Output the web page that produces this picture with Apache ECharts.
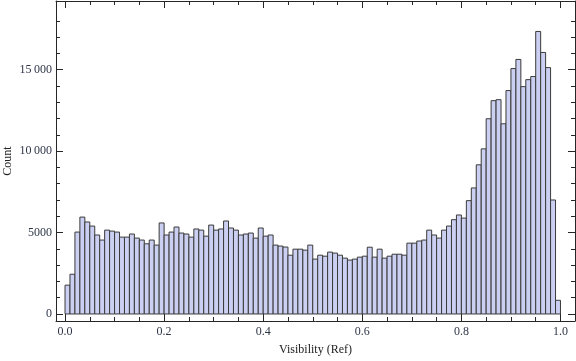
<!DOCTYPE html>
<html>
<head>
<meta charset="UTF-8">
<title>Visibility histogram</title>
<script src="https://cdn.jsdelivr.net/npm/echarts@6/dist/echarts.min.js"></script>
<style>
  html, body { margin: 0; padding: 0; background: #fff; }
  #main { width: 576px; height: 361px; }
</style>
</head>
<body>
<div id="main"></div>
<script>
// histogram of visibility, 100 bins of width 0.01 from 0 to 1
var binWidth = 0.01;
var counts = [
  1770, 2440, 5030, 5950, 5650, 5400, 4850, 4540, 5150, 5090,
  5030, 4720, 4720, 4910, 4660, 4540, 4310, 4540, 4230, 5590,
  4850, 5030, 5340, 4970, 4910, 4720, 5220, 5150, 4780, 5460,
  5150, 5220, 5710, 5280, 5150, 4850, 4910, 4970, 4660, 5280,
  4780, 4850, 4230, 4170, 4110, 3610, 3980, 3980, 3920, 4230,
  3370, 3610, 3550, 3800, 3740, 3610, 3430, 3310, 3370, 3490,
  3550, 4100, 3490, 3980, 3430, 3550, 3670, 3670, 3610, 4350,
  4350, 4480, 4540, 5150, 4850, 4660, 5150, 5400, 5790, 6080,
  5890, 6960, 7740, 9160, 10140, 11990, 13100, 13160, 11680, 13720,
  15070, 15630, 13960, 14390, 14580, 17350, 16060, 15130, 7000, 840
];

var xMajorTicks = [0, 0.2, 0.4, 0.6, 0.8, 1.0];
var xMinorTicks = [0.05, 0.1, 0.15, 0.25, 0.3, 0.35, 0.45, 0.5, 0.55, 0.65, 0.7, 0.75, 0.85, 0.9, 0.95];
var yMajorTicks = [0, 5000, 10000, 15000];
var yMinorTicks = [1000, 2000, 3000, 4000, 6000, 7000, 8000, 9000, 11000, 12000, 13000, 14000, 16000, 17000, 18000];

var xMin = -0.0182, xMax = 1.0293;
var yMin = -431, yMax = 19220;

var bins = [];
for (var i = 0; i < counts.length; i++) {
  bins.push([i * binWidth, (i + 1) * binWidth, counts[i]]);
}

var font = 'Liberation Serif, Times New Roman, serif';
var frameColor = '#262626';
var labelColor = '#2e3648';

function tickAxis(pos, ticks, len, withLine) {
  return {
    type: 'value', position: pos,
    axisLine: { show: withLine, onZero: false, lineStyle: { color: frameColor, width: 1 } },
    axisTick: { show: true, inside: true, length: len, customValues: ticks,
                lineStyle: { color: frameColor, width: 1 } },
    axisLabel: { show: false },
    splitLine: { show: false }
  };
}

var myChart = echarts.init(document.getElementById('main'), null, { renderer: 'canvas' });

var xAxes = [
  {
    type: 'value', position: 'bottom', min: xMin, max: xMax,
    name: 'Visibility (Ref)', nameLocation: 'middle', nameGap: 23,
    nameTextStyle: { fontFamily: font, fontSize: 12, color: '#222' },
    axisLine: { show: true, onZero: false, lineStyle: { color: frameColor, width: 1 } },
    axisTick: { show: true, inside: true, length: 7, customValues: xMajorTicks,
                lineStyle: { color: frameColor, width: 1 } },
    axisLabel: { show: true, customValues: xMajorTicks, margin: 5,
                 fontFamily: font, fontSize: 12, color: labelColor,
                 formatter: function (v) { return v.toFixed(1); } },
    splitLine: { show: false }
  },
  tickAxis('bottom', xMinorTicks, 4, false),
  tickAxis('top', xMajorTicks, 7, true),
  tickAxis('top', xMinorTicks, 4, false)
];
for (var k = 1; k < xAxes.length; k++) { xAxes[k].min = xMin; xAxes[k].max = xMax; }

var yAxes = [
  {
    type: 'value', position: 'left', min: yMin, max: yMax,
    name: 'Count', nameLocation: 'middle', nameGap: 42, nameRotate: 90,
    nameMoveOverlap: false,
    nameTextStyle: { fontFamily: font, fontSize: 12, color: '#222' },
    axisLine: { show: true, onZero: false, lineStyle: { color: frameColor, width: 1 } },
    axisTick: { show: true, inside: true, length: 7, customValues: yMajorTicks,
                lineStyle: { color: frameColor, width: 1 } },
    axisLabel: { show: true, customValues: yMajorTicks, margin: 4,
                 fontFamily: font, fontSize: 12, color: labelColor,
                 formatter: function (v) {
                   return v >= 10000 ? String(v).replace(/(\d{2})(\d{3})$/, '$1\u2009$2') : String(v);
                 } },
    splitLine: { show: false }
  },
  tickAxis('left', yMinorTicks, 4, false),
  tickAxis('right', yMajorTicks, 7, true),
  tickAxis('right', yMinorTicks, 4, false)
];
for (var m = 1; m < yAxes.length; m++) { yAxes[m].min = yMin; yAxes[m].max = yMax; }

var option = {
  animation: false,
  backgroundColor: '#fff',
  grid: { left: 56, right: 1, top: 1, bottom: 40, containLabel: false, outerBoundsMode: 'none' },
  xAxis: xAxes,
  yAxis: yAxes,
  series: [{
    type: 'custom',
    xAxisIndex: 0, yAxisIndex: 0,
    encode: { x: [0, 1], y: 2 },
    data: bins,
    renderItem: function (params, api) {
      var p0 = api.coord([api.value(0), 0]);
      var p1 = api.coord([api.value(1), api.value(2)]);
      return {
        type: 'rect',
        shape: { x: p0[0], y: p1[1], width: p1[0] - p0[0], height: p0[1] - p1[1] },
        style: { fill: '#cbd0f2', stroke: '#3a3a3a', lineWidth: 1 }
      };
    }
  }]
};
myChart.setOption(option);
</script>
</body>
</html>
